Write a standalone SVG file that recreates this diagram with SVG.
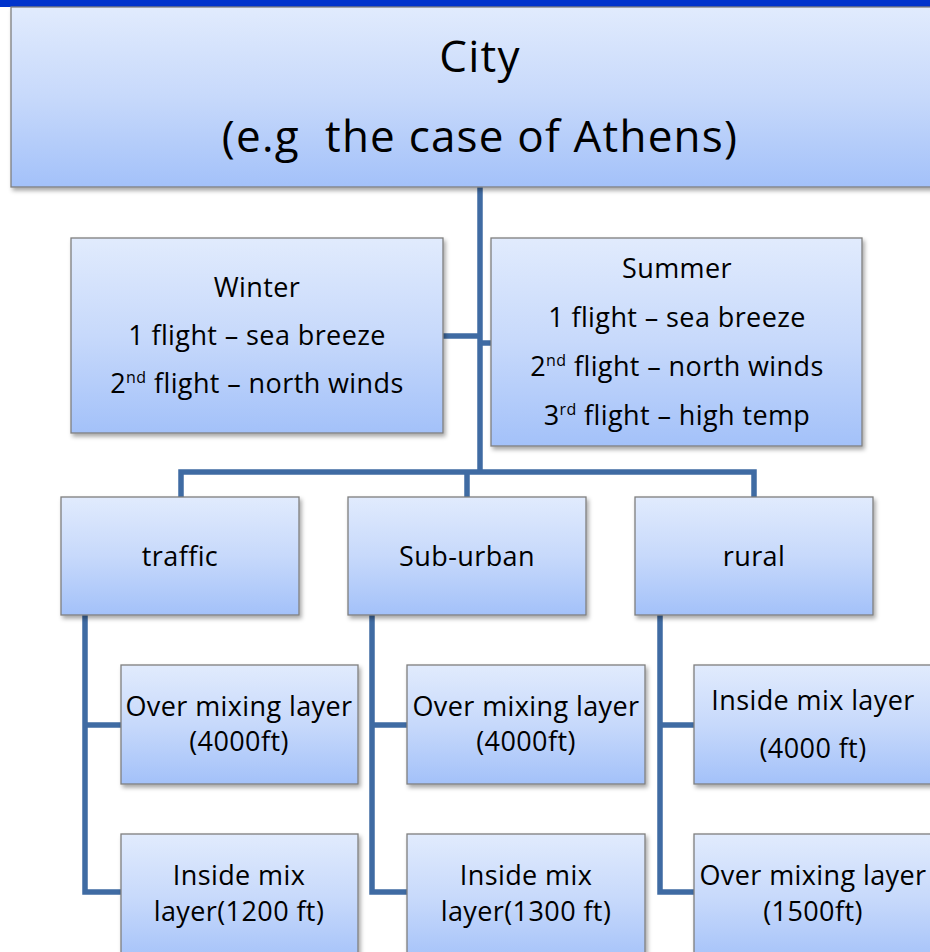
<svg xmlns="http://www.w3.org/2000/svg" width="930" height="952" viewBox="0 0 930 952">
<defs>
<linearGradient id="g" x1="0" y1="0" x2="0" y2="1">
<stop offset="0" stop-color="#e1ebfd"/>
<stop offset="0.5" stop-color="#c7d9fb"/>
<stop offset="1" stop-color="#a3c1f9"/>
</linearGradient>
<filter id="sh" x="-10%" y="-10%" width="130%" height="140%">
<feDropShadow dx="2" dy="3" stdDeviation="2" flood-color="#000" flood-opacity="0.35"/>
</filter>
</defs>
<style>
.box{fill:url(#g);stroke:#7f7f7f;stroke-width:1.3;filter:url(#sh)}
.c{fill:none;stroke:#3f6ba3;stroke-width:5.5;stroke-linejoin:miter}
text{font-family:"Open Sans",Lato,"Liberation Sans",sans-serif;fill:#000;text-anchor:middle}
.t1{font-size:44px;letter-spacing:1.2px}
.t2{font-size:27px;letter-spacing:0.4px}
.sup{font-size:16px}
</style>
<rect x="0" y="0" width="930" height="952" fill="#fff"/>
<rect x="0" y="0" width="930" height="7" fill="#0033cc"/>

<g id="connectors">
<path class="c" d="M480 187 V472"/>
<path class="c" d="M443 336 H480"/>
<path class="c" d="M480 343 H491"/>
<path class="c" d="M181 497 V472 H754 V497"/>
<path class="c" d="M467 472 V497"/>
<path class="c" d="M85 615 V892 H121 M85 725 H121"/>
<path class="c" d="M372 615 V892 H407 M372 725 H407"/>
<path class="c" d="M660 615 V892 H694 M660 725 H694"/>
</g>

<g id="city">
<rect class="box" x="11" y="7" width="930" height="180"/>
<text class="t1" x="480" y="72">City</text>
<text class="t1" x="480" y="152" xml:space="preserve">(e.g  the case of Athens)</text>
</g>

<g id="winter">
<rect class="box" x="71" y="238" width="372" height="195"/>
<text class="t2" x="257" y="297">Winter</text>
<text class="t2" x="257" y="345">1 flight – sea breeze</text>
<text class="t2" x="257" y="393">2<tspan class="sup" dy="-10">nd</tspan><tspan dy="10"> flight – north winds</tspan></text>
</g>

<g id="summer">
<rect class="box" x="491" y="238" width="371" height="208"/>
<text class="t2" x="677" y="278">Summer</text>
<text class="t2" x="677" y="327">1 flight – sea breeze</text>
<text class="t2" x="677" y="376">2<tspan class="sup" dy="-10">nd</tspan><tspan dy="10"> flight – north winds</tspan></text>
<text class="t2" x="677" y="425">3<tspan class="sup" dy="-10">rd</tspan><tspan dy="10"> flight – high temp</tspan></text>
</g>

<g id="traffic">
<rect class="box" x="61" y="497" width="238" height="118"/>
<text class="t2" x="180" y="566">traffic</text>
</g>
<g id="suburban">
<rect class="box" x="348" y="497" width="238" height="118"/>
<text class="t2" x="467" y="566">Sub-urban</text>
</g>
<g id="rural">
<rect class="box" x="635" y="497" width="238" height="118"/>
<text class="t2" x="754" y="566">rural</text>
</g>

<g id="traffic-over">
<rect class="box" x="121" y="665" width="237" height="119"/>
<text class="t2" x="239" y="716">Over mixing layer</text>
<text class="t2" x="239" y="751">(4000ft)</text>
</g>
<g id="traffic-inside">
<rect class="box" x="121" y="834" width="237" height="130"/>
<text class="t2" x="239" y="885">Inside mix</text>
<text class="t2" x="239" y="921">layer(1200 ft)</text>
</g>
<g id="suburban-over">
<rect class="box" x="407" y="665" width="238" height="119"/>
<text class="t2" x="526" y="716">Over mixing layer</text>
<text class="t2" x="526" y="751">(4000ft)</text>
</g>
<g id="suburban-inside">
<rect class="box" x="407" y="834" width="238" height="130"/>
<text class="t2" x="526" y="885">Inside mix</text>
<text class="t2" x="526" y="921">layer(1300 ft)</text>
</g>
<g id="rural-inside">
<rect class="box" x="694" y="665" width="240" height="119"/>
<text class="t2" x="813" y="710">Inside mix layer</text>
<text class="t2" x="813" y="758">(4000 ft)</text>
</g>
<g id="rural-over">
<rect class="box" x="694" y="834" width="240" height="130"/>
<text class="t2" x="813" y="885">Over mixing layer</text>
<text class="t2" x="813" y="921">(1500ft)</text>
</g>
</svg>
